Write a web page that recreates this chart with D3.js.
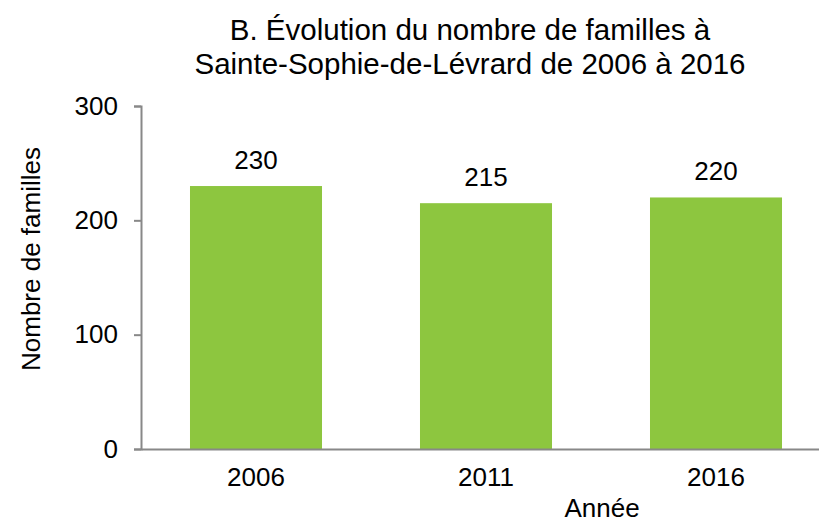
<!DOCTYPE html>
<html>
<head>
<meta charset="utf-8">
<script src="https://cdn.jsdelivr.net/npm/d3@7"></script>
<style>
  body { margin: 0; background: #fff; }
  svg text { font-family: "Liberation Sans", Arial, sans-serif; fill: #000; }
</style>
</head>
<body>
<div class="graph"></div>
<script>
var years = ['2006', '2011', '2016'];
var familles = [230, 215, 220];
var yTicks = [0, 100, 200, 300];

var width = 819, height = 520;
var plotLeft = 141, plotTop = 106, plotBottom = 449;

var svg = d3.select('.graph')
  .append('svg')
  .attr('width', width)
  .attr('height', height);

var x = d3.scaleBand()
  .domain(years)
  .range([plotLeft, plotLeft + 690])
  .paddingInner(0.426)
  .paddingOuter(0.213);

var y = d3.scaleLinear()
  .domain([0, 300])
  .range([plotBottom, plotTop]);

// bars
svg.selectAll('rect.bar')
  .data(familles)
  .enter()
  .append('rect')
  .attr('class', 'bar')
  .attr('x', function (d, i) { return x(years[i]); })
  .attr('width', x.bandwidth())
  .attr('y', function (d) { return y(d); })
  .attr('height', function (d) { return y(0) - y(d); })
  .attr('fill', '#8dc63f');

// value labels
svg.selectAll('text.val')
  .data(familles)
  .enter()
  .append('text')
  .attr('class', 'val')
  .attr('x', function (d, i) { return x(years[i]) + x.bandwidth() / 2; })
  .attr('y', function (d) { return y(d) - 17; })
  .attr('text-anchor', 'middle')
  .style('font-size', '26px')
  .text(function (d) { return d; });

// y axis
var yAxis = svg.append('g')
  .attr('transform', 'translate(' + plotLeft + ',0)')
  .call(d3.axisLeft(y).tickValues(yTicks).tickSize(7).tickSizeOuter(7).tickPadding(16));
yAxis.select('.domain').attr('stroke', '#888').attr('stroke-width', 2);
yAxis.selectAll('.tick line').attr('stroke', '#888').attr('stroke-width', 2);
yAxis.selectAll('.tick text')
  .style('font-size', '26px')
  .style('font-family', '"Liberation Sans", Arial, sans-serif')
  .attr('fill', '#000');

// x axis
var xAxis = svg.append('g')
  .attr('transform', 'translate(0,' + plotBottom + ')')
  .call(d3.axisBottom(x).tickSize(0).tickPadding(19));
xAxis.select('.domain').attr('stroke', '#888').attr('stroke-width', 2);
xAxis.selectAll('.tick text')
  .style('font-size', '26px')
  .style('font-family', '"Liberation Sans", Arial, sans-serif')
  .attr('fill', '#000');

// title
var title = svg.append('text')
  .attr('text-anchor', 'middle')
  .style('font-size', '29.5px');
title.append('tspan').attr('x', 470).attr('y', 40).text('B. Évolution du nombre de familles à');
title.append('tspan').attr('x', 470).attr('y', 74).text('Sainte-Sophie-de-Lévrard de 2006 à 2016');

// axis titles
svg.append('text')
  .attr('transform', 'translate(40,259) rotate(-90)')
  .attr('text-anchor', 'middle')
  .style('font-size', '26px')
  .text('Nombre de familles');

svg.append('text')
  .attr('x', 602)
  .attr('y', 517)
  .attr('text-anchor', 'middle')
  .style('font-size', '26px')
  .text('Année');
</script>
</body>
</html>
